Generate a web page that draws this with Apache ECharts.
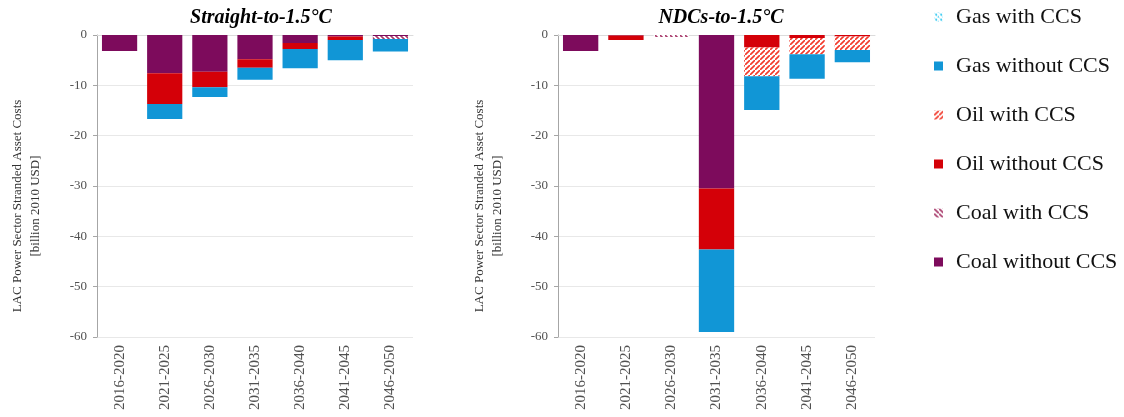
<!DOCTYPE html>
<html>
<head>
<meta charset="utf-8">
<script src="https://cdn.jsdelivr.net/npm/echarts@6/dist/echarts.min.js"></script>
<style>
  html, body { margin: 0; padding: 0; background: #fff; }
  #chart { width: 1124px; height: 417px; }
</style>
</head>
<body>
<div id="chart"></div>
<script>
// Periods shown on both panels
const periods = ['2016-2020', '2021-2025', '2026-2030', '2031-2035', '2036-2040', '2041-2045', '2046-2050'];
const yTicks = [0, -10, -20, -30, -40, -50, -60];

// Straight-to-1.5°C (billion 2010 USD)
const straightCoalWithout = [-3.2, -7.6, -7.3, -4.8, -1.6, -0.3, -0.2];
const straightCoalWith    = [0, 0, 0, 0, 0, 0, -0.6];
const straightOilWithout  = [0, -6.1, -3.1, -1.7, -1.2, -0.7, 0];
const straightOilWith     = [0, 0, 0, 0, 0, 0, 0];
const straightGasWithout  = [0, -3.0, -1.9, -2.4, -3.8, -4.0, -2.5];
const straightGasWith     = [0, 0, 0, 0, 0, 0, 0];

// NDCs-to-1.5°C (billion 2010 USD)
const ndcCoalWithout = [-3.2, -0.1, 0, -30.5, 0, 0, 0];
const ndcCoalWith    = [0, 0, -0.4, 0, 0, 0, 0];
const ndcOilWithout  = [0, -0.9, 0, -12.1, -2.5, -0.6, -0.3];
const ndcOilWith     = [0, 0, 0, 0, -5.7, -3.2, -2.7];
const ndcGasWithout  = [0, 0, 0, -16.4, -6.7, -4.9, -2.4];
const ndcGasWith     = [0, 0, 0, 0, 0, 0, 0];

const legendOrder = ['Gas with CCS', 'Gas without CCS', 'Oil with CCS', 'Oil without CCS', 'Coal with CCS', 'Coal without CCS'];

// Diagonal hatch fill on white
function hatch(color, dir, dashed) {
  const s = 5;
  const c = document.createElement('canvas');
  c.width = s; c.height = s;
  const g = c.getContext('2d');
  g.fillStyle = '#ffffff';
  g.fillRect(0, 0, s, s);
  g.strokeStyle = color;
  g.lineWidth = 1.6;
  if (dashed) g.setLineDash([2, 1.5]);
  g.beginPath();
  if (dir === '/') {
    g.moveTo(-1, s + 1); g.lineTo(s + 1, -1);
    g.moveTo(-2, 1); g.lineTo(1, -2);
    g.moveTo(s - 1, s + 2); g.lineTo(s + 2, s - 1);
  } else {
    g.moveTo(-1, -1); g.lineTo(s + 1, s + 1);
    g.moveTo(-2, s - 1); g.lineTo(1, s + 2);
    g.moveTo(s - 1, -2); g.lineTo(s + 2, 1);
  }
  g.stroke();
  return { image: c, repeat: 'repeat' };
}

const colors = {
  'Coal without CCS': '#7d0b5c',
  'Coal with CCS': hatch('#a8396a', '\\', false),
  'Oil without CCS': '#d40008',
  'Oil with CCS': hatch('#f23a2c', '/', false),
  'Gas without CCS': '#1196d6',
  'Gas with CCS': hatch('#19c3f0', '\\', true)
};

function panelSeries(idx, stackName, sets) {
  return sets.map(([name, data]) => ({
    name: name,
    type: 'bar',
    stack: stackName,
    xAxisIndex: idx,
    yAxisIndex: idx,
    barCategoryGap: '22%',
    data: data,
    itemStyle: { color: colors[name] },
    emphasis: { disabled: true }
  }));
}

const serif = '"Liberation Serif", "Times New Roman", serif';

function xAxis(gridIndex) {
  return {
    type: 'category',
    gridIndex: gridIndex,
    data: periods,
    position: 'bottom',
    axisLine: { lineStyle: { color: '#dcdcdc' } },
    axisTick: { show: false },
    axisLabel: { rotate: 90, fontFamily: serif, fontSize: 15, color: '#505050', margin: 8 }
  };
}

function yAxis(gridIndex) {
  return {
    type: 'value',
    gridIndex: gridIndex,
    min: yTicks[yTicks.length - 1],
    max: yTicks[0],
    interval: 10,
    axisLine: { show: true, lineStyle: { color: '#a6a6a6' } },
    axisTick: { show: true, length: 4, lineStyle: { color: '#a6a6a6' } },
    axisLabel: { fontFamily: serif, fontSize: 13, color: '#505050', margin: 10 },
    splitLine: { lineStyle: { color: '#e8e8e8' } }
  };
}

const chart = echarts.init(document.getElementById('chart'), null, { renderer: 'canvas' });

const titleStyle = { fontFamily: serif, fontSize: 20, fontWeight: 'bold', fontStyle: 'italic', color: '#000' };

chart.setOption({
  animation: false,
  backgroundColor: '#ffffff',
  title: [
    { text: 'Straight-to-1.5°C', left: 256, top: 3, textAlign: 'center', textStyle: titleStyle },
    { text: 'NDCs-to-1.5°C', left: 716, top: 3, textAlign: 'center', textStyle: titleStyle }
  ],
  legend: {
    data: legendOrder,
    orient: 'vertical',
    left: 929,
    top: 1,
    itemWidth: 9,
    itemHeight: 9,
    itemGap: 27,
    icon: 'rect',
    selectedMode: false,
    textStyle: { fontFamily: serif, fontSize: 22, color: '#111', padding: [0, 0, 0, 8] }
  },
  grid: [
    { left: 97, right: 711, top: 35, bottom: 80 },
    { left: 558, right: 249, top: 35, bottom: 80 }
  ],
  xAxis: [xAxis(0), xAxis(1)],
  yAxis: [yAxis(0), yAxis(1)],
  graphic: [
    { type: 'text', x: 27, y: 206, rotation: Math.PI / 2,
      style: { text: 'LAC Power Sector Stranded Asset Costs\n[billion 2010 USD]', align: 'center', verticalAlign: 'middle',
        font: '13px ' + serif, fill: '#333', lineHeight: 18 } },
    { type: 'text', x: 489, y: 206, rotation: Math.PI / 2,
      style: { text: 'LAC Power Sector Stranded Asset Costs\n[billion 2010 USD]', align: 'center', verticalAlign: 'middle',
        font: '13px ' + serif, fill: '#333', lineHeight: 18 } }
  ],
  series: [
    ...panelSeries(0, 'straight', [
      ['Coal without CCS', straightCoalWithout],
      ['Coal with CCS', straightCoalWith],
      ['Oil without CCS', straightOilWithout],
      ['Oil with CCS', straightOilWith],
      ['Gas without CCS', straightGasWithout],
      ['Gas with CCS', straightGasWith]
    ]),
    ...panelSeries(1, 'ndc', [
      ['Coal without CCS', ndcCoalWithout],
      ['Coal with CCS', ndcCoalWith],
      ['Oil without CCS', ndcOilWithout],
      ['Oil with CCS', ndcOilWith],
      ['Gas without CCS', ndcGasWithout],
      ['Gas with CCS', ndcGasWith]
    ])
  ]
});
</script>
</body>
</html>
